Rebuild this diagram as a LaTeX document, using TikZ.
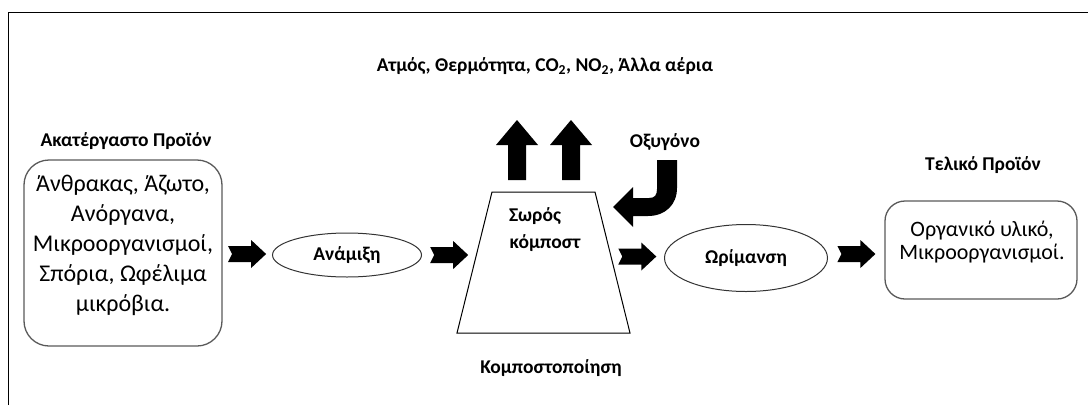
\documentclass[tikz,border=0pt]{standalone}
\usepackage{fontspec}
\setmainfont{Carlito}
\usetikzlibrary{calc,shapes.geometric}
\tikzset{
  lbl/.style={font=\bfseries\fontsize{19.5}{22}\selectfont, inner sep=0pt},
  txtL/.style={font=\fontsize{24}{30}\selectfont, align=center, inner sep=0pt},
  txtR/.style={font=\fontsize{22}{23}\selectfont, align=center, inner sep=0pt},
  rbox/.style={draw=black!65, line width=1.3pt},
  ell/.style={draw=black!80, ellipse, line width=1pt, inner sep=0pt, font=\bfseries\fontsize{19.5}{22}\selectfont},
  barrow/.pic={\fill (-19,-8) -- (4,-8) -- (4,-14) -- (19,0) -- (4,14) -- (4,8) -- (-19,8) -- (-15,0) -- cycle;},
  uparrow/.pic={\fill (-9,30) -- (-9,-5) -- (-21,-5) -- (0,-30) -- (21,-5) -- (9,-5) -- (9,30) -- cycle;}
}
\begin{document}
\begin{tikzpicture}[x=1pt,y=-1pt]
\useasboundingbox (0,0) rectangle (1088,405);
% frame
\draw[line width=1pt] (8,405) -- (8,12) -- (1088,12);
% title
\node[lbl] (gas) at (545,66) {Ατμός, Θερμότητα, CO\textsubscript{2}, NO\textsubscript{2}, Άλλα αέρια};
% raw product
\node[lbl] (rawlbl) at (126,141) {Ακατέργαστο Προϊόν};
\draw[rbox, rounded corners=25pt] (24,160) rectangle (222,346);
\node[minimum width=198pt, minimum height=186pt, inner sep=0pt] (raw) at (123,253) {};
\node[txtL] (rawtxt) at (123,245) {Άνθρακας, Άζωτο,\\Ανόργανα,\\Μικροοργανισμοί,\\Σπόρια, Ωφέλιμα\\μικρόβια.};
% mixing
\node[ell, minimum width=149pt, minimum height=44pt] (mix) at (347,255) {Ανάμιξη};
% pile
\coordinate (tl) at (492,192);
\coordinate (tr) at (595,192);
\coordinate (br) at (630,333);
\coordinate (bl) at (457,333);
\draw[line width=1pt] (tl) -- (tr) -- (br) -- (bl) -- cycle;
\coordinate (pileL) at ($(bl)!0.553!(tl)$);
\coordinate (pileR) at ($(br)!0.553!(tr)$);
\node[lbl] (pile1) at (535,216) {Σωρός};
\node[lbl] (pile2) at (545,243) {κόμποστ};
\node[lbl] (comp) at (551,368) {Κομποστοποίηση};
% gas arrows
\path (517,150) pic {uparrow};
\path (571,150) pic {uparrow};
% oxygen
\node[lbl] (oxy) at (665,142) {Οξυγόνο};
\fill (657,160) -- (657,189) .. controls (657,195) and (655,198) .. (649,198) -- (633,198) -- (633,187) -- (613,207) -- (633,227) -- (633,216) -- (648,216) .. controls (665,216) and (677,205) .. (677,188) -- (677,160) -- cycle;
% ripening
\node[ell, minimum width=163pt, minimum height=67pt] (rip) at (746,258) {Ωρίμανση};
% final product
\node[lbl] (finlbl) at (983,165) {Τελικό Προϊόν};
\draw[rbox, rounded corners=20pt] (885,201) rectangle (1077,299);
\node[minimum width=192pt, minimum height=98pt, inner sep=0pt] (fin) at (981,250) {};
\node[txtR] (fintxt) at (982,242) {Οργανικό υλικό,\\Μικροοργανισμοί.};
% block arrows
\path ($(raw.east)!0.5!(mix.west)$) pic {barrow};
\path ($(mix.east)!0.5!(pileL)$) pic {barrow};
\path ($(pileR)!0.5!(rip.west)$) pic {barrow};
\path ($(rip.east)!0.5!(fin.west)$) pic {barrow};
\end{tikzpicture}
\end{document}
